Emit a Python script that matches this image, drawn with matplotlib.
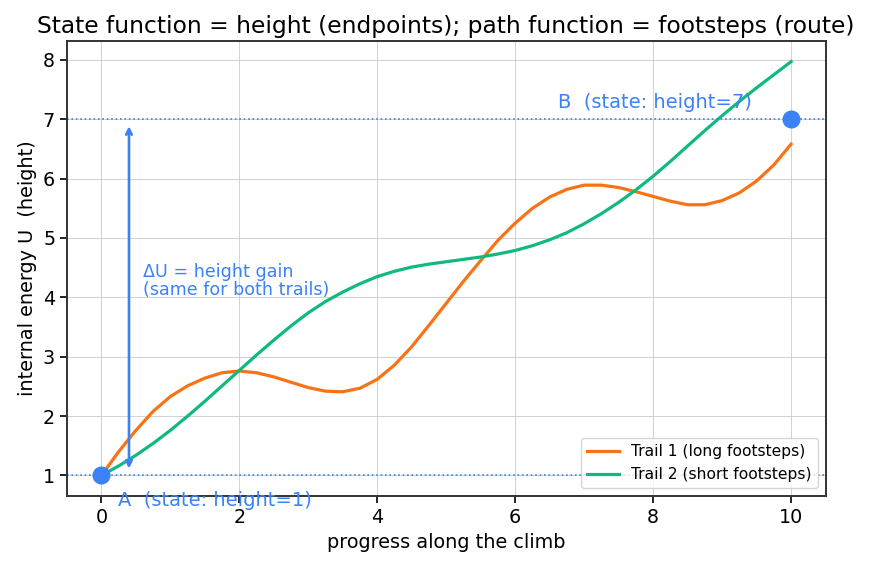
import matplotlib.pyplot as plt

# progress along the climb (sampled every 0.25)
progress = [i * 0.25 for i in range(41)]

# Trail 1 - long footsteps (orange)
trail1 = [1.00, 1.40, 1.76, 2.08, 2.33, 2.51, 2.64, 2.73, 2.76, 2.73,
          2.66, 2.57, 2.48, 2.42, 2.41, 2.47, 2.62, 2.86, 3.17, 3.53,
          3.90, 4.27, 4.62, 4.96, 5.25, 5.50, 5.69, 5.82, 5.89, 5.89,
          5.85, 5.78, 5.70, 5.62, 5.56, 5.56, 5.63, 5.76, 5.96, 6.23,
          6.58]

# Trail 2 - short footsteps (green)
trail2 = [1.00, 1.16, 1.34, 1.54, 1.76, 2.00, 2.25, 2.51, 2.77, 3.03,
          3.28, 3.52, 3.74, 3.93, 4.09, 4.23, 4.35, 4.44, 4.51, 4.56,
          4.60, 4.64, 4.68, 4.73, 4.79, 4.87, 4.97, 5.09, 5.24, 5.41,
          5.60, 5.81, 6.04, 6.29, 6.55, 6.81, 7.06, 7.30, 7.53, 7.75,
          7.97]

start_x, start_h = 0, 1
end_x, end_h = 10, 7

orange = '#f97316'
green = '#10b981'
blue = '#3b82f6'

fig = plt.figure(figsize=(8.69, 5.69), dpi=100)
ax = fig.add_axes([0.077, 0.128, 0.873, 0.8])

ax.plot(progress, trail1, color=orange, lw=2.3, label='Trail 1 (long footsteps)')
ax.plot(progress, trail2, color=green, lw=2.3, label='Trail 2 (short footsteps)')

ax.axhline(start_h, color=blue, ls=':', lw=1.2)
ax.axhline(end_h, color=blue, ls=':', lw=1.2)
ax.plot([start_x, end_x], [start_h, end_h], 'o', color=blue, ms=12, zorder=5)

ax.annotate('A  (state: height=1)', xy=(start_x, start_h), xytext=(12, -11),
            textcoords='offset points', color=blue, fontsize=14, va='top')
ax.annotate('B  (state: height=7)', xy=(end_x, end_h), xytext=(-28, 5),
            textcoords='offset points', color=blue, fontsize=14, ha='right', va='bottom')

ax.annotate('', xy=(0.4, end_h), xytext=(0.4, start_h),
            arrowprops=dict(arrowstyle='<->', color=blue, lw=1.9, shrinkA=5, shrinkB=5))
ax.text(0.6, 4.27, 'ΔU = height gain\n(same for both trails)', color=blue,
        fontsize=12.6, va='center', ha='left', linespacing=1.0)

ax.set_title('State function = height (endpoints); path function = footsteps (route)', fontsize=16.8)
ax.set_xlabel('progress along the climb', fontsize=13.9)
ax.set_ylabel('internal energy U  (height)', fontsize=13.9)
ax.tick_params(labelsize=13.8, length=5, width=1.2)
ax.grid(True, color='#c8ccd0', lw=0.6)
for s in ax.spines.values():
    s.set_color('#333333')
    s.set_linewidth(1.4)

ax.legend(loc='lower right', fontsize=11.2)

fig.savefig('out.png', dpi=100)
